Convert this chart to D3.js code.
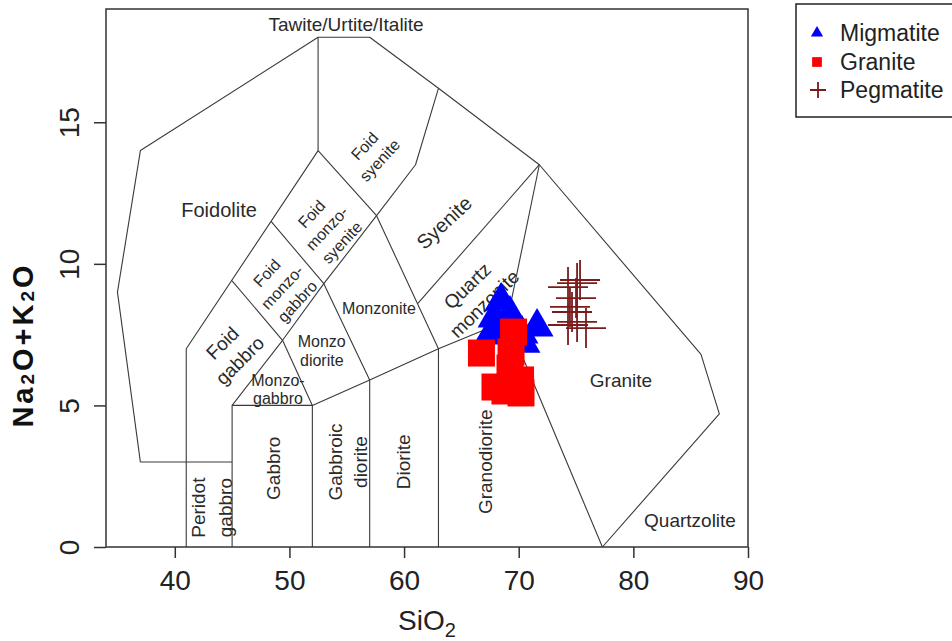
<!DOCTYPE html>
<html>
<head>
<meta charset="utf-8">
<script src="https://cdn.jsdelivr.net/npm/d3@7"></script>
<style>
  html, body { margin: 0; padding: 0; background: #fff; }
  svg { display: block; font-family: "Liberation Sans", Arial, sans-serif; }
</style>
</head>
<body>
<svg id="chart" width="952" height="641"></svg>
<script>
// TAS classification of plutonic rocks (Middlemost 1994): SiO2 vs Na2O+K2O

const xTicks = [40, 50, 60, 70, 80, 90];
const yTicks = [0, 5, 10, 15];

// Field boundaries, [SiO2, Na2O+K2O] polylines
const outerBoundary = [[37, 3], [35, 9], [37, 14], [52.5, 18], [57, 18], [63, 16.2], [71.8, 13.5], [85.9, 6.8], [87.5, 4.7], [77.3, 0]];
const foidoliteBase = [[37, 3], [45, 3]];
const foidGabbroEdge = [[41, 0], [41, 7], [52.5, 14], [52.5, 18]];
const lowerEdge = [[45, 0], [45, 5], [52, 5], [57, 5.9], [63, 7], [69, 8], [77.3, 0]];
const foidEdge = [[45, 5], [49.4, 7.3], [53, 9.3], [57.6, 11.7], [61, 13.5], [63, 16.2]];
const gabbroEdge = [[52, 0], [52, 5], [49.4, 7.3], [45, 9.4]];
const dioriteEdge = [[57, 0], [57, 5.9], [53, 9.3], [48.4, 11.5]];
const granodioriteEdge = [[63, 0], [63, 7], [57.6, 11.7], [52.5, 14]];
const syeniteEdge = [[61.2, 8.6], [71.8, 13.5]];
const graniteEdge = [[69, 8], [71.8, 13.5]];
const boundaries = [outerBoundary, foidoliteBase, foidGabbroEdge, lowerEdge, foidEdge,
                    gabbroEdge, dioriteEdge, granodioriteEdge, syeniteEdge, graniteEdge];

// Field names, anchored in data units
const fieldNames = [
  ["Tawite/Urtite/Italite"], ["Foidolite"], ["Foid", "syenite"], ["Foid", "monzo-", "syenite"],
  ["Syenite"], ["Foid", "monzo-", "gabbro"], ["Monzonite"], ["Quartz", "monzonite"],
  ["Foid", "gabbro"], ["Monzo", "diorite"], ["Monzo-", "gabbro"], ["Peridot", "gabbro"],
  ["Gabbro"], ["Gabbroic", "diorite"], ["Diorite"], ["Granodiorite"], ["Granite"], ["Quartzolite"]
];
const fieldNameSiO2 = [54.94, 43.86, 57.2, 53.25, 63.48, 49.35, 57.81, 66.25, 44.9, 52.82, 49.0, 43.22, 48.59, 55.07, 59.93, 67.06, 78.92, 84.94];
const fieldNameAlk  = [18.47, 11.9, 13.91, 11.26, 11.46, 9.18, 8.44, 8.91, 6.9, 6.93, 5.58, 1.39, 2.78, 3.0, 3.01, 3.01, 5.9, 0.95];
const fieldNameAngle = [0, 0, -47, -47, -43, -47, 0, -44, -45, 0, 0, -90, -90, -90, -90, -90, 0, 0];
const fieldNameSize  = [19, 20, 16, 16, 20, 16, 16, 19, 19, 16, 16, 19, 19, 19, 19, 19, 19, 19];
const fieldNameLead  = [1.2, 1.2, 1.3, 1.3, 1.2, 1.3, 1.2, 1.3, 1.3, 1.15, 1.15, 1.4, 1.2, 1.32, 1.2, 1.2, 1.2, 1.2];

// Samples
const migmatiteSiO2 = [68.46, 67.85, 69.24, 71.6, 70.29, 67.5, 70.46, 68.8];
const migmatiteAlk  = [8.69, 8.09, 8.23, 7.77, 7.52, 7.49, 7.2, 7.66];
const graniteSiO2   = [66.75, 69.55, 69.33, 69.24, 67.93, 68.8, 70.16, 70.2];
const graniteAlk    = [6.85, 7.59, 6.89, 6.32, 5.65, 5.51, 5.9, 5.44];
const pegmatiteSiO2 = [75.35, 74.30, 75.09, 75.0, 74.47, 74.65, 74.30, 75.09, 75.87];
const pegmatiteAlk  = [9.43, 9.18, 9.32, 8.79, 8.48, 8.30, 7.84, 7.95, 7.73];

const legendNames = ["Migmatite", "Granite", "Pegmatite"];

const svg = d3.select("#chart");
const plot = { left: 106, right: 748, top: 9, bottom: 547 };

const x = d3.scaleLinear().domain([34, 90]).range([plot.left, plot.right]);
const y = d3.scaleLinear().domain([0, 19]).range([plot.bottom, plot.top]);

const lineGen = d3.line().x(d => x(d[0])).y(d => y(d[1]));

// Field boundaries
svg.append("g")
  .selectAll("path")
  .data(boundaries)
  .join("path")
  .attr("d", lineGen)
  .attr("fill", "none")
  .attr("stroke", "#3a3a3a")
  .attr("stroke-width", 1.1)
  .attr("stroke-linejoin", "round");

// Field names
const names = svg.append("g").attr("fill", "#2a2a2a");
fieldNames.forEach((lines, i) => {
  const size = fieldNameSize[i];
  const lh = size * fieldNameLead[i];
  const t = names.append("text")
    .attr("transform", `translate(${x(fieldNameSiO2[i])},${y(fieldNameAlk[i])}) rotate(${fieldNameAngle[i]})`)
    .attr("text-anchor", "middle")
    .attr("font-size", size);
  lines.forEach((s, k) => {
    t.append("tspan")
      .attr("x", 0)
      .attr("y", (k - (lines.length - 1) / 2) * lh + size * 0.36)
      .text(s);
  });
});

// Samples: migmatite triangles, granite squares, pegmatite crosses
const tri = d3.symbol().type(d3.symbolTriangle).size(470);
svg.append("g")
  .selectAll("path")
  .data(migmatiteSiO2.map((v, i) => [v, migmatiteAlk[i]]))
  .join("path")
  .attr("d", tri)
  .attr("transform", d => `translate(${x(d[0])},${y(d[1])})`)
  .attr("fill", "#0000ff");

const sq = d3.symbol().type(d3.symbolSquare).size(729);
svg.append("g")
  .selectAll("path")
  .data(graniteSiO2.map((v, i) => [v, graniteAlk[i]]))
  .join("path")
  .attr("d", sq)
  .attr("transform", d => `translate(${x(d[0])},${y(d[1])})`)
  .attr("fill", "#ff0000");

const arm = 20;
const crossPath = r => `M${-r},0H${r}M0,${-r}V${r}`;
svg.append("g")
  .selectAll("path")
  .data(pegmatiteSiO2.map((v, i) => [v, pegmatiteAlk[i]]))
  .join("path")
  .attr("d", crossPath(arm))
  .attr("transform", d => `translate(${x(d[0])},${y(d[1])})`)
  .attr("fill", "none")
  .attr("stroke", "#7a1c1c")
  .attr("stroke-width", 1.8);

// Plot frame
svg.append("rect")
  .attr("x", plot.left).attr("y", plot.top)
  .attr("width", plot.right - plot.left).attr("height", plot.bottom - plot.top)
  .attr("fill", "none").attr("stroke", "#333").attr("stroke-width", 1.5);

// X axis
const xAxis = d3.axisBottom(x).tickValues(xTicks).tickSize(11).tickPadding(6).tickFormat(d3.format("d"));
const gx = svg.append("g").attr("transform", `translate(0,${plot.bottom})`).call(xAxis);
gx.select(".domain").remove();
gx.selectAll(".tick line").attr("stroke", "#333").attr("stroke-width", 1.5);
gx.selectAll(".tick text")
  .attr("font-family", "Liberation Sans, Arial, sans-serif")
  .attr("font-size", 28).attr("fill", "#222")
  .attr("dy", null).attr("y", null)
  .attr("transform", "translate(0,43)");

// Y axis
const yAxis = d3.axisLeft(y).tickValues(yTicks).tickSize(12).tickFormat(d3.format("d"));
const gy = svg.append("g").attr("transform", `translate(${plot.left},0)`).call(yAxis);
gy.select(".domain").remove();
gy.selectAll(".tick line").attr("stroke", "#333").attr("stroke-width", 1.5);
gy.selectAll(".tick text")
  .attr("font-family", "Liberation Sans, Arial, sans-serif")
  .attr("font-size", 28).attr("fill", "#222")
  .attr("x", null).attr("dy", null)
  .attr("text-anchor", "middle")
  .attr("transform", "translate(-37,0) rotate(-90) translate(0,10)");

// Axis titles
const xt = svg.append("text")
  .attr("x", (plot.left + plot.right) / 2).attr("y", 630)
  .attr("text-anchor", "middle").attr("font-size", 28).attr("fill", "#222");
xt.append("tspan").text("SiO");
xt.append("tspan").attr("font-size", 20).attr("dy", 7).text("2");

const yt = svg.append("text")
  .attr("transform", "translate(33,345) rotate(-90)")
  .attr("text-anchor", "middle").attr("font-size", 29).attr("font-weight", "bold")
  .attr("letter-spacing", 3).attr("fill", "#111");
yt.append("tspan").text("Na");
yt.append("tspan").attr("font-size", 19).attr("dy", 1).text("2");
yt.append("tspan").attr("dy", -1).text("O+K");
yt.append("tspan").attr("font-size", 19).attr("dy", 1).text("2");
yt.append("tspan").attr("dy", -1).text("O");

// Legend
const lg = svg.append("g");
lg.append("rect").attr("x", 796).attr("y", 4).attr("width", 170).attr("height", 113)
  .attr("fill", "#fff").attr("stroke", "#222").attr("stroke-width", 1.5);
const legendY = [33, 62, 90];
lg.append("path").attr("d", d3.symbol().type(d3.symbolTriangle).size(65)())
  .attr("transform", `translate(817,${legendY[0]})`).attr("fill", "#0000ff");
lg.append("path").attr("d", d3.symbol().type(d3.symbolSquare).size(95)())
  .attr("transform", `translate(817,${legendY[1]})`).attr("fill", "#ff0000");
lg.append("path").attr("d", crossPath(8))
  .attr("transform", `translate(818,${legendY[2]})`)
  .attr("fill", "none").attr("stroke", "#7a1c1c").attr("stroke-width", 1.8);
lg.selectAll("text.lab")
  .data(legendNames)
  .join("text")
  .attr("class", "lab")
  .attr("x", 840)
  .attr("y", (d, i) => legendY[i] + 8)
  .attr("font-size", 23).attr("fill", "#222")
  .text(d => d);
</script>
</body>
</html>
